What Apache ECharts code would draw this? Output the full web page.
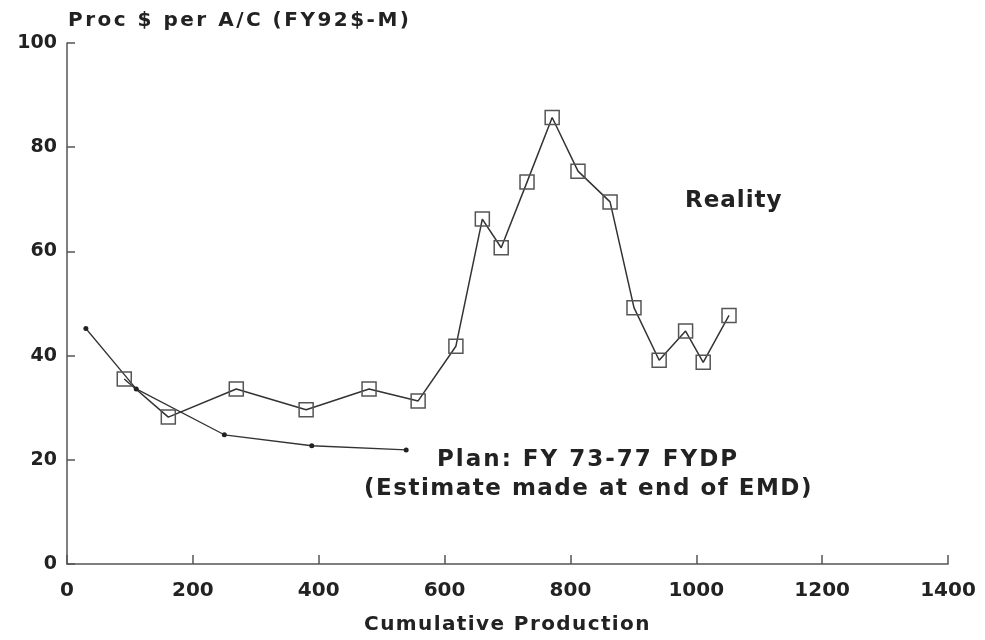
<!DOCTYPE html>
<html>
<head>
<meta charset="utf-8">
<script src="https://cdn.jsdelivr.net/npm/echarts@6/dist/echarts.min.js"></script>
<style>
html,body{margin:0;padding:0;background:#fff;}
#chart{width:985px;height:640px;}
</style>
</head>
<body>
<div id="chart"></div>
<script>
// Reality (actual procurement cost per aircraft)
const realityX = [91, 161, 269, 380, 480, 558, 618, 660, 690, 731, 771, 812, 863, 901, 941, 983, 1011, 1052];
const realityY = [35.5, 28.2, 33.6, 29.6, 33.6, 31.3, 41.8, 66.2, 60.7, 73.3, 85.7, 75.4, 69.5, 49.2, 39.1, 44.7, 38.7, 47.7];
// Plan: FY 73-77 FYDP
const planX = [30, 110, 250, 389, 539];
const planY = [45.2, 33.6, 24.8, 22.7, 21.9];

const xTicks = [0, 200, 400, 600, 800, 1000, 1200, 1400];
const yTicks = [0, 20, 40, 60, 80, 100];

const yTitle = 'Proc $ per A/C (FY92$-M)';
const xTitle = 'Cumulative Production';
const realityLabel = 'Reality';
const planLabel1 = 'Plan: FY 73-77 FYDP';
const planLabel2 = '(Estimate made at end of EMD)';

// wide letter tracking like the typeset original
const TRACKING = {};
TRACKING[yTitle] = '2.5px';
TRACKING[xTitle] = '1.4px';
TRACKING[realityLabel] = '1px';
TRACKING[planLabel1] = '2px';
TRACKING[planLabel2] = '1.5px';
const _fillText = CanvasRenderingContext2D.prototype.fillText;
CanvasRenderingContext2D.prototype.fillText = function (t, x, y, mw) {
  if ('letterSpacing' in this) this.letterSpacing = TRACKING[t] || '0px';
  return mw === undefined ? _fillText.call(this, t, x, y) : _fillText.call(this, t, x, y, mw);
};

const FONT = 'DejaVu Sans';
const TXT = '#222';

const chart = echarts.init(document.getElementById('chart'), null, {renderer: 'canvas'});
chart.setOption({
  backgroundColor: '#fff',
  animation: false,
  grid: {left: 67, right: 37, top: 43, bottom: 73, containLabel: false},
  xAxis: {
    type: 'value', min: xTicks[0], max: xTicks[xTicks.length - 1], interval: 200,
    name: xTitle, nameLocation: 'middle', nameGap: 51,
    nameTextStyle: {fontFamily: FONT, fontSize: 20, fontWeight: 'bold', color: TXT},
    axisLine: {lineStyle: {color: '#555', width: 1.5}},
    axisTick: {inside: true, length: 9, lineStyle: {color: '#555', width: 1.5}},
    axisLabel: {fontFamily: FONT, fontSize: 20, fontWeight: 'bold', color: TXT, margin: 17,
      formatter: v => String(v)},
    splitLine: {show: false}
  },
  yAxis: {
    type: 'value', min: yTicks[0], max: yTicks[yTicks.length - 1], interval: 20,
    axisLine: {show: true, lineStyle: {color: '#555', width: 1.5}},
    axisTick: {show: true, inside: true, length: 8, lineStyle: {color: '#555', width: 1.5}},
    axisLabel: {fontFamily: FONT, fontSize: 19, fontWeight: 'bold', color: TXT, margin: 10,
      formatter: v => String(v)},
    splitLine: {show: false}
  },
  series: [
    {
      name: 'Reality', type: 'line',
      data: realityX.map((x, i) => [x, realityY[i]]),
      symbol: 'rect', symbolSize: 14,
      lineStyle: {color: '#333', width: 1.5},
      itemStyle: {color: 'rgba(255,255,255,0)', borderColor: '#555', borderWidth: 1.5}
    },
    {
      name: 'Plan', type: 'line',
      data: planX.map((x, i) => [x, planY[i]]),
      symbol: 'circle', symbolSize: 5,
      lineStyle: {color: '#333', width: 1.3},
      itemStyle: {color: '#222'}
    }
  ],
  graphic: [
    {type: 'text', left: 68, top: 11, style: {text: yTitle, font: 'bold 20px "DejaVu Sans"', fill: TXT}},
    {type: 'text', left: 685, top: 190, style: {text: realityLabel, font: 'bold 23px "DejaVu Sans"', fill: TXT}},
    {type: 'text', left: 437, top: 449, style: {text: planLabel1, font: 'bold 23px "DejaVu Sans"', fill: TXT}},
    {type: 'text', left: 364, top: 478, style: {text: planLabel2, font: 'bold 23px "DejaVu Sans"', fill: TXT}}
  ]
});
</script>
</body>
</html>
